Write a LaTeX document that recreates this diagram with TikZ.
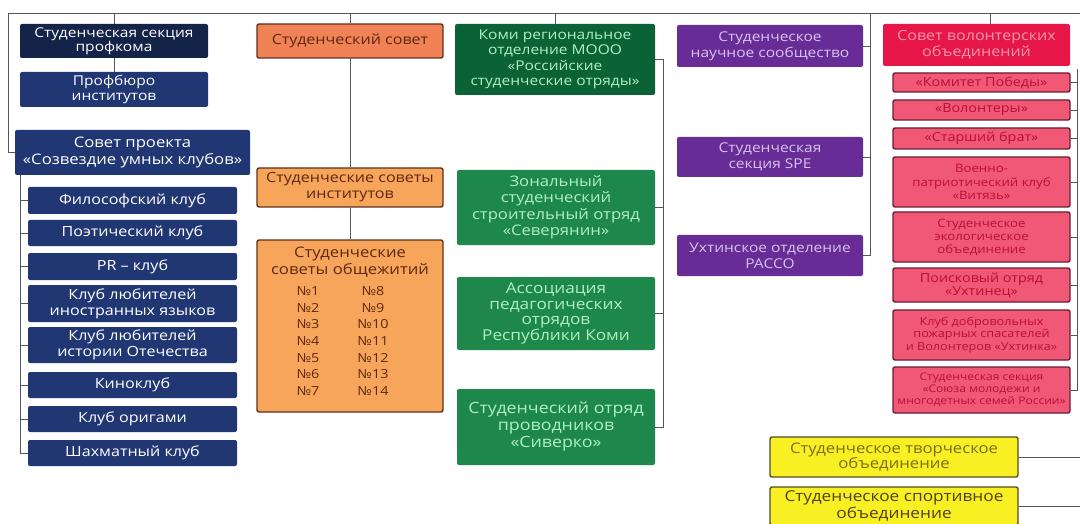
\documentclass[tikz,border=0pt]{standalone}
\usepackage{fontspec}
\setmainfont{Open Sans}[FakeStretch=1.15]
\definecolor{navyA}{RGB}{20,35,72}
\definecolor{navyB}{RGB}{33,55,115}
\definecolor{orA}{RGB}{240,130,85}
\definecolor{orB}{RGB}{246,165,90}
\definecolor{orBorder}{RGB}{95,50,30}
\definecolor{orText}{RGB}{95,40,15}
\definecolor{grA}{RGB}{12,98,55}
\definecolor{grB}{RGB}{30,135,75}
\definecolor{grText}{RGB}{175,240,195}
\definecolor{puA}{RGB}{104,44,150}
\definecolor{puText}{RGB}{215,195,240}
\definecolor{rdA}{RGB}{230,22,72}
\definecolor{rdAText}{RGB}{245,150,170}
\definecolor{rdB}{RGB}{240,88,118}
\definecolor{rdBorder}{RGB}{105,30,55}
\definecolor{rdBText}{RGB}{185,15,55}
\definecolor{yeA}{RGB}{248,240,35}
\definecolor{yeBorder}{RGB}{85,75,35}
\definecolor{yeText}{RGB}{120,110,20}
\definecolor{yeText2}{RGB}{80,65,15}
\definecolor{lineg}{RGB}{85,85,95}
\newcommand\fsz[2]{\fontsize{#1}{#2}\selectfont}
\begin{document}
\begin{tikzpicture}[x=1pt,y=-1pt,
  basebox/.style={rectangle, rounded corners=2pt, inner sep=0pt, align=center},
  nvA/.style={basebox, fill=navyA, text=white},
  nvB/.style={basebox, fill=navyB, text=white},
  orbox/.style={basebox, fill=orA, draw=orBorder, line width=1.4pt, text=orText},
  orboxB/.style={orbox, fill=orB},
  grbox/.style={basebox, fill=grB, text=grText},
  pubox/.style={basebox, fill=puA, text=puText},
  rdhead/.style={basebox, fill=rdA, text=rdAText},
  rdbox/.style={basebox, fill=rdB, draw=rdBorder, line width=1.4pt, text=rdBText},
  yebox/.style={basebox, fill=yeA, draw=yeBorder, line width=1.4pt, text=yeText},
  conn/.style={draw=lineg, line width=0.9pt},
  club/.style={nvB, minimum width=209pt, font=\fsz{14}{16}},
  rsub/.style={rdbox, minimum width=177pt}
]
\useasboundingbox (0,0) rectangle (1080,524);
\fill[white] (0,0) rectangle (1080,524);
\coordinate (T) at (0,13);
\coordinate (cl) at (20,0);
\coordinate (gx) at (663,0);
\coordinate (px) at (870,0);
\coordinate (rx) at (990,0);
\coordinate (sx) at (1077,0);
\coordinate (s0) at (1077,69);
\coordinate (E) at (1080,0);
\coordinate (L) at (8,13);
\coordinate (R) at (1080,13);

% left column
\node[nvA, minimum width=188pt, minimum height=34pt, font=\fsz{13.5}{14}] (prof) at (114,41) {Студенческая секция\\профкома};
\node[nvB, minimum width=188pt, minimum height=35pt, font=\fsz{13.5}{15}] (bur) at (114,89.5) {Профбюро\\институтов};
\node[nvB, minimum width=235pt, minimum height=45pt, font=\fsz{14.5}{17}] (sov) at (132.5,152.5) {Совет проекта\\«Созвездие умных клубов»};
\node[club, minimum height=27pt] (c1) at (132.5,200.5) {Философский клуб};
\node[club, minimum height=26pt] (c2) at (132.5,233) {Поэтический клуб};
\node[club, minimum height=27pt] (c3) at (132.5,266.5) {PR -- клуб};
\node[club, minimum height=37pt, font=\fsz{14}{16}] (c4) at (132.5,303.5) {Клуб любителей\\иностранных языков};
\node[club, minimum height=36pt, font=\fsz{14}{16}] (c5) at (132.5,345) {Клуб любителей\\истории Отечества};
\node[club, minimum height=26pt] (c6) at (132.5,385) {Киноклуб};
\node[club, minimum height=26pt] (c7) at (132.5,419) {Клуб оригами};
\node[club, minimum height=26pt] (c8) at (132.5,453) {Шахматный клуб};

% orange column
\node[orbox, minimum width=186pt, minimum height=34pt, font=\fsz{14}{16}] (ss) at (350,41) {Студенческий совет};
\node[orboxB, minimum width=186pt, minimum height=39pt, font=\fsz{14}{16}] (ssi) at (350,187.5) {Студенческие советы\\институтов};
\node[orboxB, minimum width=186pt, minimum height=172pt] (dorm) at (350,326) {};
\node[text=orText, align=center, inner sep=0pt, font=\fsz{14.5}{17}] (dormt) at (350,262) {Студенческие\\советы общежитий};
\foreach \i in {1,...,7} {
  \node[text=orText, inner sep=0pt, font=\fsz{12.5}{14}] (nl\i) at (308,{291+(\i-1)*16.7}) {№\i};
}
\foreach \i in {8,...,14} {
  \node[text=orText, inner sep=0pt, font=\fsz{12.5}{14}] (nr\i) at (373,{291+(\i-8)*16.7}) {№\i};
}

% green column
\node[grbox, fill=grA, minimum width=200pt, minimum height=71pt, font=\fsz{13.5}{15.5}] (g1) at (555,59.5) {Коми региональное\\отделение МООО\\«Российские\\студенческие отряды»};
\node[grbox, minimum width=198pt, minimum height=75pt, font=\fsz{14.5}{16.5}] (g2) at (556,207.5) {Зональный\\студенческий\\строительный отряд\\«Северянин»};
\node[grbox, minimum width=198pt, minimum height=73pt, font=\fsz{15}{15.5}] (g3) at (556,313.5) {Ассоциация\\педагогических\\отрядов\\Республики Коми};
\node[grbox, minimum width=198pt, minimum height=76pt, font=\fsz{15.5}{17}] (g4) at (556,427) {Студенческий отряд\\проводников\\«Сиверко»};

% purple column
\node[pubox, minimum width=186pt, minimum height=42pt, font=\fsz{13.5}{16}] (p1) at (770,46) {Студенческое\\научное сообщество};
\node[pubox, minimum width=186pt, minimum height=40pt, font=\fsz{13.5}{16}] (p2) at (770,157) {Студенческая\\секция SPE};
\node[pubox, minimum width=186pt, minimum height=41pt, font=\fsz{13.5}{16}] (p3) at (770,255.5) {Ухтинское отделение\\РАССО};

% red column
\node[rdhead, minimum width=187pt, minimum height=42pt, font=\fsz{14}{16}] (hdr) at (976.5,45) {Совет волонтерских\\объединений};
\node[rsub, minimum height=19pt, font=\fsz{12.5}{13}] (r1) at (981.5,82.5) {«Комитет Победы»};
\node[rsub, minimum height=20pt, font=\fsz{12.5}{13}] (r2) at (981.5,110) {«Волонтеры»};
\node[rsub, minimum height=21pt, font=\fsz{12.5}{13}] (r3) at (981.5,138.5) {«Старший брат»};
\node[rsub, minimum height=50pt, font=\fsz{11.5}{13.5}] (r4) at (981.5,182) {Военно-\\патриотический клуб\\«Витязь»};
\node[rsub, minimum height=50pt, font=\fsz{11.5}{13}] (r5) at (981.5,237) {Студенческое\\экологическое\\объединение};
\node[rsub, minimum height=34pt, font=\fsz{12.5}{13}] (r6) at (981.5,285) {Поисковый отряд\\«Ухтинец»};
\node[rsub, minimum height=50pt, font=\fsz{11}{12.5}] (r7) at (981.5,335) {Клуб добровольных\\пожарных спасателей\\и Волонтеров «Ухтинка»};
\node[rsub, minimum height=46pt, font=\fsz{10.5}{12}] (r8) at (981.5,390) {Студенческая секция\\«Союза молодежи и\\многодетных семей России»};

% yellow
\node[yebox, minimum width=248pt, minimum height=40pt, font=\fsz{14.5}{15}] (y1) at (894,457) {Студенческое творческое\\объединение};
\node[yebox, text=yeText2, minimum width=248pt, minimum height=38pt, font=\fsz{15}{15}] (y2) at (894,506) {Студенческое спортивное\\объединение};

% connectors
\draw[conn] (L) -- (R);
\draw[conn] (L) |- (sov.west);
\draw[conn] (prof.north) -- (prof.north |- T);
\draw[conn] (prof.south) -- (bur.north);
\draw[conn] (sov.south -| cl) -- (c8.west -| cl);
\foreach \c in {c1,c2,c3,c4,c5,c6,c7,c8} { \draw[conn] (\c.west -| cl) -- (\c.west); }
\draw[conn] (ss.north) -- (ss.north |- T);
\draw[conn] (ss.south) -- (ssi.north);
\draw[conn] (ssi.south) -- (dorm.north);
\draw[conn] (g1.north) -- (g1.north |- T);
\draw[conn] (g1.east) -- (g1.east -| gx) -- (g4.east -| gx) -- (g4.east);
\draw[conn] (g2.east) -- (g2.east -| gx);
\draw[conn] (g3.east) -- (g3.east -| gx);
\draw[conn] (T -| px) -- (p3.east -| px) -- (p3.east);
\draw[conn] (p1.east) -- (p1.east -| px);
\draw[conn] (p2.east) -- (p2.east -| px);
\draw[conn] (hdr.north -| rx) -- (T -| rx);
\draw[conn] (s0) -- (r8.east -| sx) -- (r8.east);
\foreach \r in {r1,r2,r3,r4,r5,r6,r7} { \draw[conn] (\r.east) -- (\r.east -| sx); }
\draw[conn] (y1.east) -- (y1.east -| E);
\draw[conn] (y2.east) -- (y2.east -| E);
\end{tikzpicture}
\end{document}
